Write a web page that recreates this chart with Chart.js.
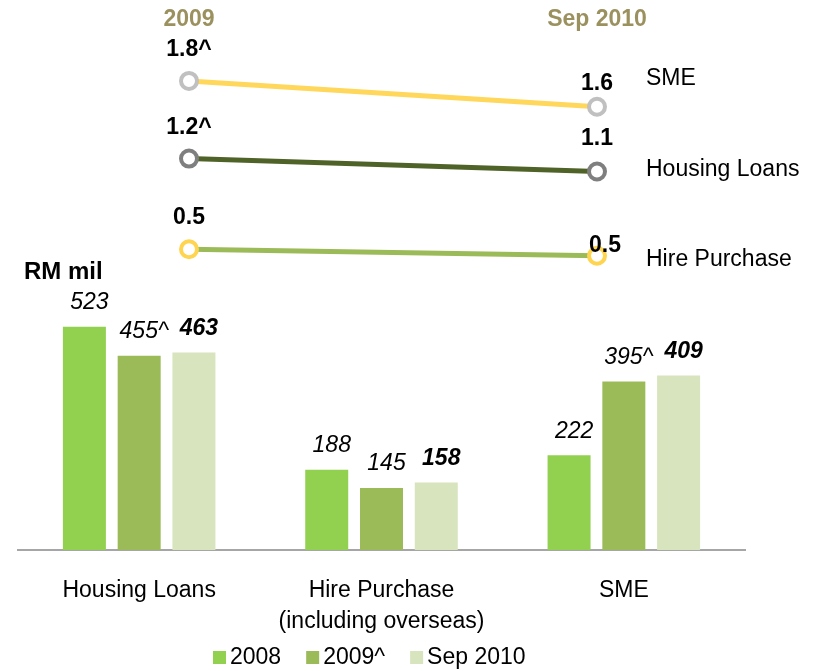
<!DOCTYPE html>
<html>
<head>
<meta charset="utf-8">
<script src="https://cdn.jsdelivr.net/npm/chart.js@4.4.1/dist/chart.umd.min.js"></script>
<style>
  body { margin: 0; background: #fff; }
  #wrap { position: relative; width: 823px; height: 671px; overflow: hidden; }
  canvas { position: absolute; left: 0; top: 0; }
</style>
</head>
<body>
<div id="wrap">
  <canvas id="barras" width="823" height="671"></canvas>
  <canvas id="lineas" width="823" height="671"></canvas>
</div>
<script>
//* Datos

// Barras (RM mil)
var categorias = ["Housing Loans", ["Hire Purchase", "(including overseas)"], "SME"];
var series = ["2008", "2009^", "Sep 2010"];
var valores2008 = [523, 188, 222];
var valores2009 = [455, 145, 395];
var valoresSep2010 = [463, 158, 409];
var etiquetas2008 = ["523", "188", "222"];
var etiquetas2009 = ["455^", "145", "395^"];
var etiquetasSep2010 = ["463", "158", "409"];

// Lineas
var periodos = ["2009", "Sep 2010"];
var nombresLineas = ["SME", "Housing Loans", "Hire Purchase"];
var valoresSME = [1.8, 1.6];
var valoresHousing = [1.2, 1.1];
var valoresHire = [0.5, 0.45];
var etiquetasSME = ["1.8^", "1.6"];
var etiquetasHousing = ["1.2^", "1.1"];
var etiquetasHire = ["0.5", "0.5"];

var fuente = "'Liberation Sans', Arial, sans-serif";

//!-----------------------------------------------------------------------------

//* Grafico de barras

// Etiquetas encima de cada barra + leyenda + "RM mil"
var pluginBarras = {
  id: "pluginBarras",
  afterDatasetsDraw: function (chart) {
    var ctx = chart.ctx;
    ctx.save();
    ctx.textAlign = "center";
    ctx.textBaseline = "middle";
    ctx.fillStyle = "#000";
    chart.data.datasets.forEach(function (ds, i) {
      var meta = chart.getDatasetMeta(i);
      ctx.font = (ds.negrita ? "italic bold " : "italic ") + "23px " + fuente;
      meta.data.forEach(function (bar, j) {
        ctx.fillText(ds.etiquetas[j], bar.x + 5, bar.y - 24);
      });
    });

    ctx.textAlign = "left";
    ctx.font = "bold 24px " + fuente;
    ctx.fillText("RM mil", 24, 272);

    // leyenda
    var x = 213;
    var y = 657;
    ctx.font = "23px " + fuente;
    chart.data.datasets.forEach(function (ds) {
      ctx.fillStyle = ds.backgroundColor;
      ctx.fillRect(x, y - 6, 13, 13);
      ctx.fillStyle = "#000";
      ctx.fillText(ds.label, x + 17, y + 1);
      x += 17 + ctx.measureText(ds.label).width + 25;
    });
    ctx.restore();
  }
};

var ctxBarras = document.getElementById("barras").getContext("2d");
new Chart(ctxBarras, {
  type: "bar",
  data: {
    labels: categorias,
    datasets: [
      { label: series[0], data: valores2008, backgroundColor: "#92D050", etiquetas: etiquetas2008 },
      { label: series[1], data: valores2009, backgroundColor: "#9BBB59", etiquetas: etiquetas2009 },
      { label: series[2], data: valoresSep2010, backgroundColor: "#D7E4BD", etiquetas: etiquetasSep2010, negrita: true }
    ]
  },
  options: {
    responsive: false,
    animation: false,
    devicePixelRatio: 1,
    categoryPercentage: 0.678,
    barPercentage: 0.785,
    layout: { padding: { top: 294, bottom: 34, left: 18, right: 78 } },
    plugins: { legend: { display: false }, tooltip: { enabled: false } },
    scales: {
      y: { display: false, min: 0, max: 600 },
      x: {
        grid: { display: false, drawTicks: true, tickLength: 25 },
        border: { display: true, color: "#A6A6A6", width: 2 },
        ticks: { padding: 0, color: "#000", font: { family: fuente, size: 23, lineHeight: 1.35 }, maxRotation: 0 }
      }
    }
  },
  plugins: [pluginBarras]
});

//!-----------------------------------------------------------------------------

//* Grafico de lineas

var desplazamientos = [[[0, -31], [0, -23]], [[0, -31], [0, -33]], [[0, -32], [8, -10]]];
var desplazamientoNombre = [-28, -2, 4];

var pluginLineas = {
  id: "pluginLineas",
  afterDatasetsDraw: function (chart) {
    var ctx = chart.ctx;
    ctx.save();
    ctx.textBaseline = "middle";
    ctx.fillStyle = "#000";
    chart.data.datasets.forEach(function (ds, i) {
      var meta = chart.getDatasetMeta(i);
      ctx.font = "bold 23px " + fuente;
      ctx.textAlign = "center";
      meta.data.forEach(function (pt, j) {
        var d = desplazamientos[i][j];
        ctx.fillText(ds.etiquetas[j], pt.x + d[0], pt.y + d[1]);
      });
      var ultimo = meta.data[meta.data.length - 1];
      ctx.font = "23px " + fuente;
      ctx.textAlign = "left";
      ctx.fillText(ds.label, 646, ultimo.y + desplazamientoNombre[i]);
    });
    ctx.restore();
  }
};

function linea(nombre, valores, etiquetas, color, colorPunto) {
  return {
    label: nombre,
    data: valores,
    etiquetas: etiquetas,
    borderColor: color,
    borderWidth: 5,
    pointRadius: 8,
    pointBorderWidth: 4,
    pointBackgroundColor: "#fff",
    pointBorderColor: colorPunto,
    clip: false
  };
}

var ctxLineas = document.getElementById("lineas").getContext("2d");
new Chart(ctxLineas, {
  type: "line",
  data: {
    labels: periodos,
    datasets: [
      linea(nombresLineas[0], valoresSME, etiquetasSME, "#FFD75A", "#C0C0C0"),
      linea(nombresLineas[1], valoresHousing, etiquetasHousing, "#4F6228", "#7F7F7F"),
      linea(nombresLineas[2], valoresHire, etiquetasHire, "#9BBB59", "#FFD44F")
    ]
  },
  options: {
    responsive: false,
    animation: false,
    devicePixelRatio: 1,
    layout: { padding: { top: 5.4, bottom: 357, left: 189, right: 226 } },
    plugins: { legend: { display: false }, tooltip: { enabled: false } },
    scales: {
      y: { display: false, min: 0, max: 2 },
      x: {
        position: "top",
        offset: false,
        grid: { display: false, drawTicks: true, tickLength: 22 },
        border: { display: false },
        ticks: { padding: 0, color: "#9B915F", font: { family: fuente, size: 23, weight: "bold", lineHeight: 1.2 }, maxRotation: 0 }
      }
    }
  },
  plugins: [pluginLineas]
});
</script>
</body>
</html>
